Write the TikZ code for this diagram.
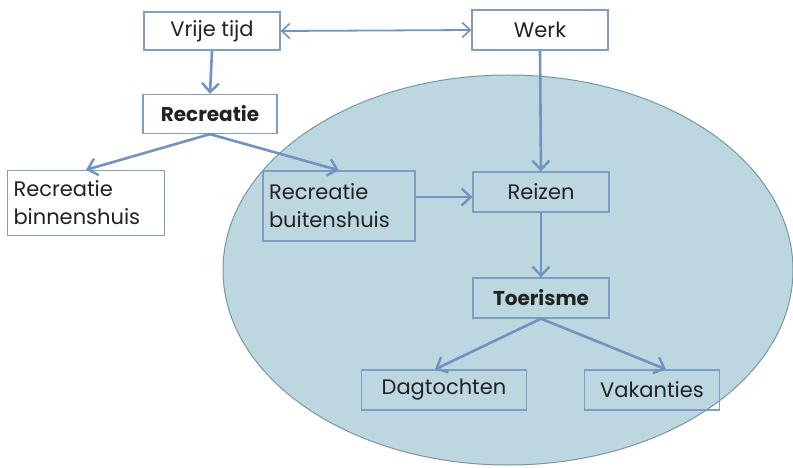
\documentclass[tikz,border=0pt]{standalone}
\usepackage{fontspec}
\setmainfont{Poppins}
\usetikzlibrary{arrows.meta}
\definecolor{boxline}{HTML}{7E9CC4}
\definecolor{arrowc}{HTML}{6F93C2}
\definecolor{ellfill}{HTML}{BDD7E0}
\definecolor{elldraw}{HTML}{7597A8}
\definecolor{txt}{HTML}{222222}
\tikzset{
  box/.style={draw=boxline, line width=1.3pt, inner sep=3pt, font=\fontsize{21}{28}\selectfont, text=txt, anchor=center},
  conn/.style={draw=arrowc, line width=2.6pt, -{Straight Barb[length=9pt,width=17pt,line width=2.4pt]}},
}
\begin{document}
\begin{tikzpicture}[x=1pt,y=-1pt]
\useasboundingbox (0,0) rectangle (793,468);
\fill[white] (0,0) rectangle (793,468);
\draw[fill=ellfill, draw=elldraw, line width=1pt] (508,270) ellipse [x radius=285, y radius=195];
\node[box, fill=white, minimum width=136pt, minimum height=38pt] (vt) at (212,31) {Vrije tijd};
\node[box, fill=white, minimum width=136pt, minimum height=40pt] (werk) at (540,30) {Werk};
\node[box, fill=white, minimum width=134pt, minimum height=39pt, font=\fontsize{20}{24}\selectfont\bfseries] (rec) at (210,114) {Recreatie};
\node[box, fill=white, minimum width=157pt, minimum height=65pt, text width=145pt, align=left] (rbin) at (86,203) {Recreatie\\binnenshuis};
\node[box, minimum width=152pt, minimum height=70pt, text width=140pt, align=left] (rbui) at (339,206) {Recreatie\\buitenshuis};
\node[box, minimum width=136pt, minimum height=40pt] (reis) at (541,192) {Reizen};
\node[box, minimum width=136pt, minimum height=40pt, font=\fontsize{20}{24}\selectfont\bfseries] (toer) at (541,298) {Toerisme};
\node[box, minimum width=165pt, minimum height=40pt] (dag) at (444,390) {Dagtochten};
\node[box, minimum width=135pt, minimum height=40pt] (vak) at (652,390) {Vakanties};
\draw[draw=arrowc, line width=1.8pt, {Straight Barb[length=8pt,width=15pt,line width=1.6pt]}-{Straight Barb[length=8pt,width=15pt,line width=1.6pt]}] (vt.east) -- (werk.west);
\draw[conn] (vt.south) -- (rec.north);
\draw[conn] (rec.south) -- (rbin.north);
\draw[conn] (rec.south) -- (rbui.north);
\draw[conn] (werk.south) -- (reis.north);
\coordinate (s1) at (0,197);
\draw[conn] (rbui.east |- s1) -- (reis.west |- s1);
\draw[conn] (reis.south) -- (toer.north);
\draw[conn] (toer.south) -- ([xshift=-9pt]dag.north);
\draw[conn] (toer.south) -- ([xshift=14pt]vak.north);
\end{tikzpicture}
\end{document}
